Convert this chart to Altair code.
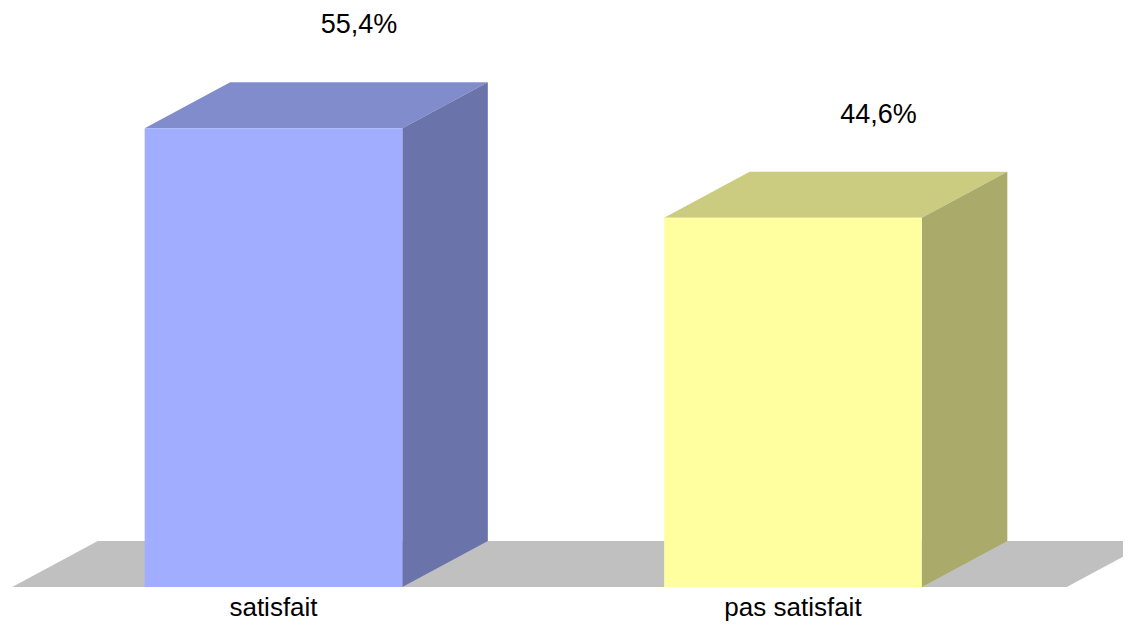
import altair as alt
import pandas as pd

# ---- data ----
categories = ["satisfait", "pas satisfait"]
values = [55.4, 44.6]
front_colors = ["#A1AEFF", "#FFFF9F"]
top_colors = ["#808CCC", "#CCCC80"]
side_colors = ["#6A73AA", "#AAAA6A"]
floor_color = "#C0C0C0"

# ---- 3D geometry (in scale units) ----
half_w = 0.248      # half bar width in slot units
dx = 0.1646         # depth offset along x (slot units)
dy = 5.556          # depth offset along y (percent units)
floor_x0, floor_x1 = -0.503, 1.527
x_dom = [-0.5111, 1.6353]
y_dom = [-4.106, 69.93]
value_label_gap = 5.9
cat_label_y = -3.50

front_rows, area_rows, text_rows, cat_rows = [], [], [], []
area_rows += [
    dict(shape="floor", x=floor_x0, y=0, y2=0, c=floor_color),
    dict(shape="floor", x=floor_x0 + dx, y=0, y2=dy, c=floor_color),
    dict(shape="floor", x=floor_x1, y=0, y2=dy, c=floor_color),
    dict(shape="floor", x=floor_x1 + dx, y=dy, y2=dy, c=floor_color),
]
for i, (cat, v) in enumerate(zip(categories, values)):
    L, R = i - half_w, i + half_w
    front_rows.append(dict(x=L, x2=R, y=0, y2=v, c=front_colors[i]))
    sid = f"top{i}"
    area_rows += [
        dict(shape=sid, x=L, y=v, y2=v, c=top_colors[i]),
        dict(shape=sid, x=L + dx, y=v, y2=v + dy, c=top_colors[i]),
        dict(shape=sid, x=R, y=v, y2=v + dy, c=top_colors[i]),
        dict(shape=sid, x=R + dx, y=v + dy, y2=v + dy, c=top_colors[i]),
    ]
    sid = f"side{i}"
    area_rows += [
        dict(shape=sid, x=R, y=0, y2=v, c=side_colors[i]),
        dict(shape=sid, x=R + dx, y=dy, y2=v + dy, c=side_colors[i]),
    ]
    label = f"{v:.1f}".replace(".", ",") + "%"
    text_rows.append(dict(x=i + dx, y=v + dy + value_label_gap, t=label))
    cat_rows.append(dict(x=i, y=cat_label_y, t=cat))

xs = alt.Scale(domain=x_dom, nice=False, zero=False)
ys = alt.Scale(domain=y_dom, nice=False, zero=False)

areas = pd.DataFrame(area_rows)

floor = alt.Chart(areas[areas["shape"] == "floor"]).mark_area(clip=True).encode(
    x=alt.X("x:Q", scale=xs, axis=None),
    y=alt.Y("y:Q", scale=ys, axis=None, stack=None),
    y2="y2:Q",
    color=alt.Color("c:N", scale=None),
    detail="shape:N",
)

faces = alt.Chart(areas[areas["shape"] != "floor"]).mark_area(clip=True).encode(
    x=alt.X("x:Q", scale=xs, axis=None),
    y=alt.Y("y:Q", scale=ys, axis=None, stack=None),
    y2="y2:Q",
    color=alt.Color("c:N", scale=None),
    detail="shape:N",
)

fronts = alt.Chart(pd.DataFrame(front_rows)).mark_rect().encode(
    x=alt.X("x:Q", scale=xs, axis=None),
    x2="x2:Q",
    y=alt.Y("y:Q", scale=ys, axis=None),
    y2="y2:Q",
    color=alt.Color("c:N", scale=None),
)

value_txt = alt.Chart(pd.DataFrame(text_rows)).mark_text(
    font="Liberation Sans", fontSize=27, color="black", baseline="alphabetic", align="center"
).encode(
    x=alt.X("x:Q", scale=xs, axis=None),
    y=alt.Y("y:Q", scale=ys, axis=None),
    text="t:N",
)

cat_txt = alt.Chart(pd.DataFrame(cat_rows)).mark_text(
    font="Liberation Sans", fontSize=26, color="black", baseline="alphabetic", align="center"
).encode(
    x=alt.X("x:Q", scale=xs, axis=None),
    y=alt.Y("y:Q", scale=ys, axis=None),
    text="t:N",
)

chart = alt.layer(floor, faces, fronts, value_txt, cat_txt).properties(
    width=1115, height=613, padding=0,
    autosize=alt.AutoSizeParams(type="none"),
).configure_view(strokeWidth=0, stroke="transparent")

chart.save("out.html", embed_options={"renderer": "svg", "actions": False})
